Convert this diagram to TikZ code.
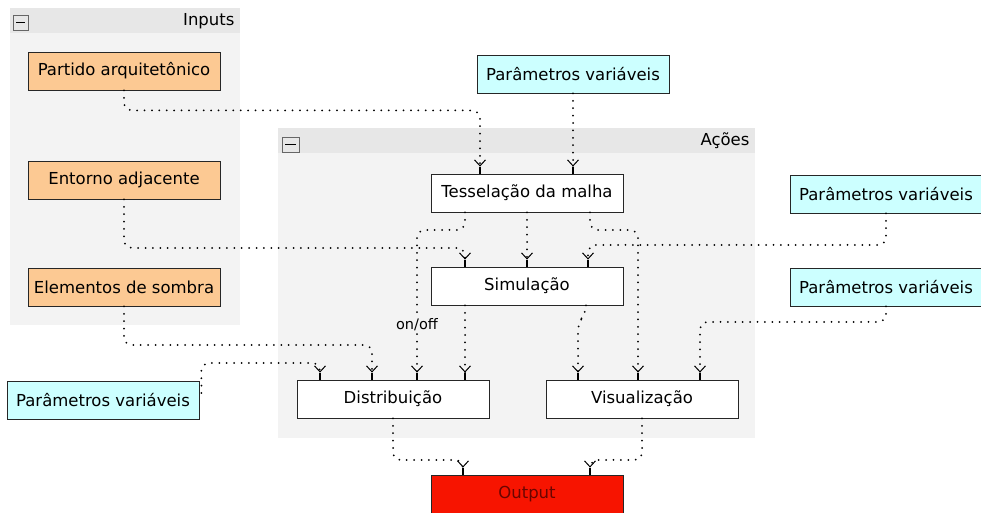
\documentclass[tikz,border=0pt]{standalone}
\usepackage{fontspec}
\setmainfont{DejaVu Sans}
\usetikzlibrary{arrows.meta}

\definecolor{peach}{HTML}{FCC993}
\definecolor{paleblue}{HTML}{CCFFFF}
\definecolor{outred}{HTML}{F71400}
\definecolor{outtext}{HTML}{6A0500}
\definecolor{panel}{HTML}{F3F3F3}
\definecolor{panelhead}{HTML}{E7E7E7}

\begin{document}
\begin{tikzpicture}[x=1pt,y=1pt,font=\fontsize{16.5}{19}\selectfont,
  box/.style={draw=black!85,line width=.8pt,minimum width=192pt,minimum height=38pt,inner sep=0pt},
  inp/.style={box,fill=peach},
  par/.style={box,fill=paleblue},
  act/.style={box,fill=white},
  dots/.style={line width=2pt,line cap=round,dash pattern=on 0pt off 7.4pt,rounded corners=8pt,
    -{Straight Barb[length=6pt,width=11pt,line width=1pt,sep=0pt]Rectangle[length=7pt,width=1.2pt,sep=0pt]}}]
  \useasboundingbox (0,0) rectangle (981,513);
  \clip (0,0) rectangle (981,513);

  % panels
  \fill [panel] (10,188) rectangle (240,505);
  \fill [panelhead] (10,480) rectangle (240,505);
  \draw [black!60] (13,483) rectangle (28,498);
  \draw [line width=1.2pt] (16,490.5) -- (25,490.5);
  \node (inputs) at (238,492) [anchor=east] {Inputs} ;

  \fill [panel] (278,75) rectangle (755,385);
  \fill [panelhead] (278,360) rectangle (755,385);
  \draw [black!60] (282,361) rectangle (299,376);
  \draw [line width=1.8pt] (285,368.5) -- (296,368.5);
  \node (acoes) at (753,372) [anchor=east] {Ações} ;

  % nodes
  \node (partido) at (124,442) [inp] {Partido arquitetônico} ;
  \node (entorno) at (124,333) [inp] {Entorno adjacente} ;
  \node (sombra) at (124,226) [inp] {Elementos de sombra} ;

  \node (partop) at (573,439) [par] {Parâmetros variáveis} ;
  \node (parr1) at (886,319) [par] {Parâmetros variáveis} ;
  \node (parr2) at (886,226) [par] {Parâmetros variáveis} ;
  \node (parl) at (103,113) [par] {Parâmetros variáveis} ;

  \node (tessel) at (527,320) [act] {Tesselação da malha} ;
  \node (simul) at (527,227) [act] {Simulação} ;
  \node (distr) at (393,114) [act] {Distribuição} ;
  \node (visual) at (642,114) [act] {Visualização} ;

  \node (output) at (527,19) [box,fill=outred,text=outtext] {Output} ;

  % connectors
  \draw [dots] (partido.south) -- ++(0,-20) -| ([xshift=-47pt]tessel.north);
  \draw [dots] (partop.south) -- ([xshift=46pt]tessel.north);

  \draw [dots] ([xshift=-62pt]tessel.south) |- (417,283)
    -- node [pos=.63,fill=panel,inner sep=1pt,font=\fontsize{14.5}{17}\selectfont] (onoff) {on/off}
    ([xshift=24pt]distr.north);
  \draw [dots] (tessel.south) -- (simul.north);
  \draw [dots] ([xshift=63pt]tessel.south) |- (638,283) -- ([xshift=-4pt]visual.north);

  \draw [dots] (entorno.south) |- (465,265) -- ([xshift=-62pt]simul.north);
  \draw [dots] (parr1.south) |- (588,268) -- ([xshift=61pt]simul.north);

  \draw [dots] ([xshift=-62pt]simul.south) -- ([xshift=72pt]distr.north);
  \draw [dots] ([xshift=59pt]simul.south) -- (586,200) -- (578,190) -- ([xshift=-64pt]visual.north);
  \draw [dots] (parr2.south) |- (700,191) -- ([xshift=58pt]visual.north);

  \draw [dots] (sombra.south) |- (372,168) -- ([xshift=-21pt]distr.north);
  \draw [dots] ([xshift=2pt,yshift=7pt]parl.east) |- (320,150) -- ([xshift=-73pt]distr.north);

  \draw [dots] (distr.south) |- (463,53) -- ([xshift=-64pt]output.north);
  \draw [dots] (visual.south) |- (590,53) -- ([xshift=63pt]output.north);
\end{tikzpicture}
\end{document}
